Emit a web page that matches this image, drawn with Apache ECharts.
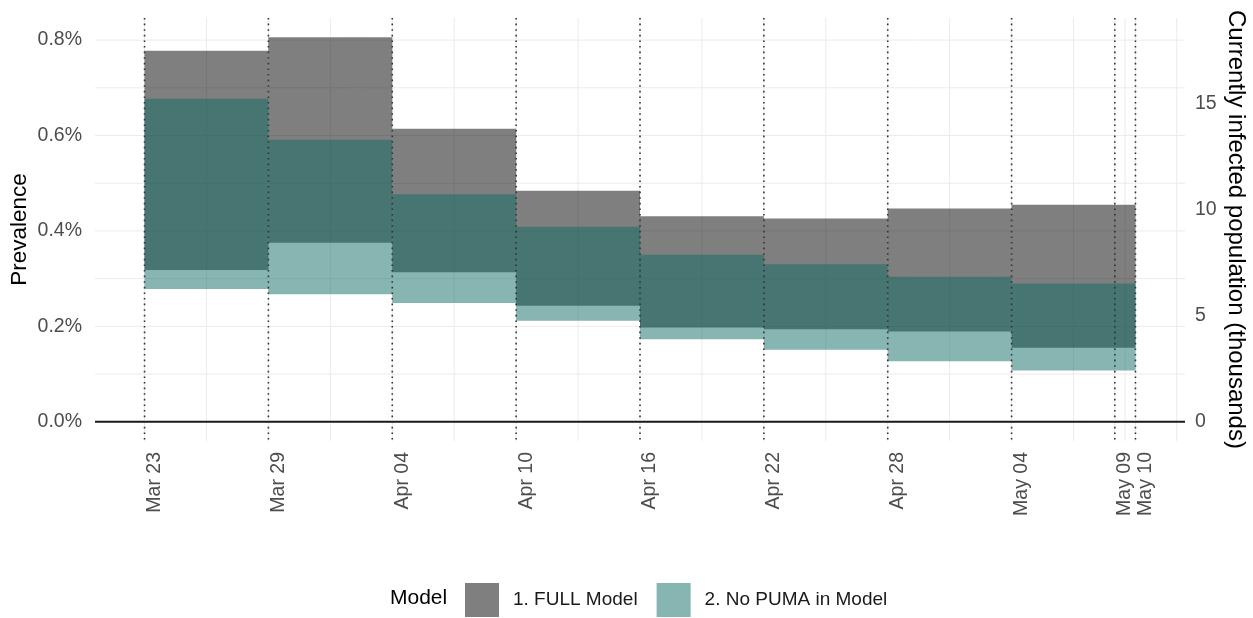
<!DOCTYPE html>
<html>
<head>
<meta charset="utf-8">
<script src="https://cdn.jsdelivr.net/npm/echarts@6/dist/echarts.min.js"></script>
<style>
html,body{margin:0;padding:0;background:#fff;}
#chart{width:1253px;height:618px;}
</style>
</head>
<body>
<div id="chart"></div>
<script>
// ---- data (prevalence in %) ----
const periodStart = ['2020-03-23','2020-03-29','2020-04-04','2020-04-10','2020-04-16','2020-04-22','2020-04-28','2020-05-04'];
const periodEnd   = ['2020-03-29','2020-04-04','2020-04-10','2020-04-16','2020-04-22','2020-04-28','2020-05-04','2020-05-10'];
const fullLow     = [0.318, 0.375, 0.3135, 0.243, 0.1975, 0.194, 0.189, 0.155];
const fullHigh    = [0.7776, 0.806, 0.614, 0.484, 0.431, 0.426, 0.447, 0.455];
const noPumaLow   = [0.2785, 0.2674, 0.249, 0.212, 0.173, 0.151, 0.127, 0.1075];
const noPumaHigh  = [0.677, 0.591, 0.477, 0.409, 0.350, 0.330, 0.304, 0.290];
const seriesNames = ['1. FULL Model', '2. No PUMA in Model'];
const tickDates   = ['2020-03-23','2020-03-29','2020-04-04','2020-04-10','2020-04-16','2020-04-22','2020-04-28','2020-05-04','2020-05-09','2020-05-10'];
const minorDates  = ['2020-03-26','2020-04-01','2020-04-07','2020-04-13','2020-04-19','2020-04-25','2020-05-01','2020-05-07','2020-05-09T12:00','2020-05-12'];
const leftTicks   = [0, 0.2, 0.4, 0.6, 0.8];
const minorY      = [0.1, 0.3, 0.5, 0.7];
const rightTicks  = [0, 5, 10, 15];
const thousandsPerPct = 22.5;

const MONTHS = ['Jan','Feb','Mar','Apr','May','Jun','Jul','Aug','Sep','Oct','Nov','Dec'];
const DAY = 864e5;
function ts(s){
  const [d, t] = s.split('T');
  const [y, m, dd] = d.split('-').map(Number);
  let h = 0, mi = 0;
  if (t) { [h, mi] = t.split(':').map(Number); }
  return Date.UTC(y, m - 1, dd, h, mi);
}
const T0 = ts(tickDates[0]);
function day(s){ return (ts(s) - T0) / DAY; }
function dayLabel(v){
  const d = new Date(T0 + Math.round(v) * DAY);
  return MONTHS[d.getUTCMonth()] + ' ' + String(d.getUTCDate()).padStart(2, '0');
}
const xMin = day(tickDates[0]) - 2.4;
const xMax = day(tickDates[tickDates.length - 1]) + 2.4;
const yMin = -0.0403, yMax = 0.8463;

function rectData(lo, hi){
  return periodStart.map((s, i) => [day(s), day(periodEnd[i]), lo[i], hi[i]]);
}
function rectRender(params, api){
  const p1 = api.coord([api.value(0), api.value(3)]);
  const p2 = api.coord([api.value(1), api.value(2)]);
  return {type:'rect', shape:{x:p1[0], y:p1[1], width:p2[0]-p1[0], height:p2[1]-p1[1]},
          style:{fill: api.visual('color')}};
}

const chart = echarts.init(document.getElementById('chart'), null, {renderer:'canvas'});
const FONT = 'Liberation Sans, Arial, sans-serif';
const TICK = 19.5;

const option = {
  animation: false,
  textStyle: {fontFamily: FONT},
  grid: {left: 95, right: 68, top: 18, bottom: 177, containLabel: false, outerBoundsMode: 'none'},
  legend: {
    data: seriesNames,
    left: 465, top: 583, padding: 0,
    itemWidth: 34, itemHeight: 34, itemGap: 19,
    icon: 'rect',
    textStyle: {fontFamily: FONT, fontSize: 19, color: '#1a1a1a', padding: [0,0,0,9]}
  },
  graphic: [{
    type: 'text', left: 390, top: 588,
    style: {text: 'Model', font: '21px ' + FONT, fill: '#000'}
  }],
  xAxis: {
    type: 'value', min: xMin, max: xMax,
    axisLine: {show: false}, axisTick: {show: false}, splitLine: {show: false},
    axisLabel: {
      customValues: tickDates.map(day),
      rotate: 90, margin: 11, fontSize: TICK, color: '#4d4d4d', fontFamily: FONT,
      verticalAlign: 'top', hideOverlap: false,
      formatter: dayLabel
    }
  },
  yAxis: [{
    type: 'value', min: yMin, max: yMax, position: 'left',
    name: 'Prevalence', nameLocation: 'middle', nameGap: 64, nameMoveOverlap: false,
    nameTextStyle: {fontSize: 22.5, color: '#000', fontFamily: FONT},
    axisLine: {show: false}, axisTick: {show: false}, splitLine: {show: false},
    axisLabel: {customValues: leftTicks, margin: 13, fontSize: TICK, color: '#4d4d4d', fontFamily: FONT,
      formatter: v => v.toFixed(1) + '%'}
  }, {
    type: 'value', min: yMin * thousandsPerPct, max: yMax * thousandsPerPct, position: 'right',
    name: 'Currently infected population (thousands)', nameLocation: 'middle', nameGap: 39, nameRotate: -90,
    nameMoveOverlap: false,
    nameTextStyle: {fontSize: 24, color: '#000', fontFamily: FONT},
    axisLine: {show: false}, axisTick: {show: false}, splitLine: {show: false},
    axisLabel: {customValues: rightTicks, margin: 10, fontSize: TICK, color: '#4d4d4d', fontFamily: FONT,
      formatter: v => String(Math.round(v))}
  }],
  series: [
    { // horizontal grid lines
      type: 'custom', name: 'hgrid', z: 1, silent: true,
      data: leftTicks.concat(minorY).map(v => [xMin, v]),
      encode: {x: 0, y: 1},
      renderItem: function(params, api){
        const cs = params.coordSys;
        const y = api.coord([xMin, api.value(1)])[1];
        return {type:'line', shape:{x1: cs.x, y1: y, x2: cs.x + cs.width, y2: y},
                style:{stroke:'#ebebeb', lineWidth: 1}};
      }
    },
    { // vertical grid lines
      type: 'custom', name: 'vgrid', z: 1, silent: true,
      data: minorDates.concat(tickDates).map(s => [day(s), 0]),
      encode: {x: 0, y: 1},
      renderItem: function(params, api){
        const cs = params.coordSys;
        const x = api.coord([api.value(0), 0])[0];
        return {type:'line', shape:{x1: x, y1: cs.y, x2: x, y2: cs.y + cs.height},
                style:{stroke:'#ebebeb', lineWidth: 1}};
      }
    },
    {
      type: 'custom', name: seriesNames[0], z: 2,
      itemStyle: {color: 'rgba(0,0,0,0.5)'},
      data: rectData(fullLow, fullHigh),
      encode: {x: [0, 1], y: [2, 3]},
      renderItem: rectRender
    },
    {
      type: 'custom', name: seriesNames[1], z: 3,
      itemStyle: {color: 'rgba(15,107,99,0.5)'},
      data: rectData(noPumaLow, noPumaHigh),
      encode: {x: [0, 1], y: [2, 3]},
      renderItem: rectRender
    },
    { // zero line
      type: 'custom', name: 'zero', z: 4, silent: true,
      data: [[xMin, 0]],
      encode: {x: 0, y: 1},
      renderItem: function(params, api){
        const cs = params.coordSys;
        const y = api.coord([xMin, 0])[1];
        return {type:'line', shape:{x1: cs.x, y1: y, x2: cs.x + cs.width, y2: y},
                style:{stroke:'#1a1a1a', lineWidth: 2}};
      }
    },
    { // dotted date lines
      type: 'custom', name: 'dates', z: 5, silent: true,
      data: tickDates.map(s => [day(s), 0]),
      encode: {x: 0, y: 1},
      renderItem: function(params, api){
        const cs = params.coordSys;
        const x = api.coord([api.value(0), 0])[0];
        return {type:'line', shape:{x1: x, y1: cs.y, x2: x, y2: cs.y + cs.height},
                style:{stroke:'#333', lineWidth: 1.6, lineDash: [1.6, 4]}};
      }
    }
  ]
};
chart.setOption(option);
</script>
</body>
</html>
